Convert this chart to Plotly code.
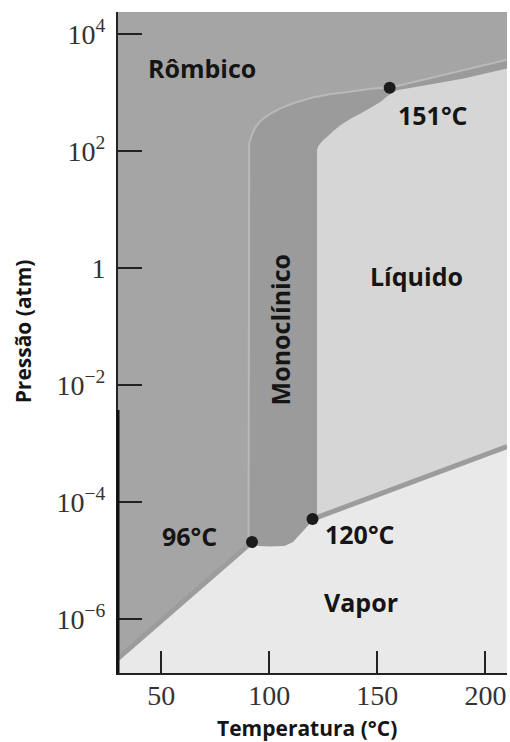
import numpy as np
import plotly.graph_objects as go

# ---------------- data ----------------
# rhombic / vapour sublimation curve
T_rh_vap = [30, 50, 75, 92]
logP_rh_vap = [-6.67, -6.03, -5.23, -4.68]
# monoclinic / vapour curve
T_mono_vap = [90.4, 92, 95, 100, 107, 111, 115, 120, 122.1]
logP_mono_vap = [-4.72, -4.73, -4.75, -4.76, -4.75, -4.68, -4.52, -4.32, -4.27]
# liquid / vapour curve
T_liq_vap = [120, 210]
logP_liq_vap = [-4.29, -3.05]
# rhombic / monoclinic boundary
T_rh_mono = [90.4, 90.4, 90.7, 91.2, 92.2, 93.5, 95.3, 97.4, 101, 105.1, 112, 120.5,
             128, 136.0, 148.1, 155.7]
logP_rh_mono = [-4.72, 2.07, 2.13, 2.19, 2.30, 2.40, 2.49, 2.56, 2.65, 2.73, 2.83, 2.92,
                2.97, 3.01, 3.07, 3.08]
# monoclinic / liquid boundary
T_mono_liq = [122.1, 122.1, 122.6, 123.6, 125.0, 126.7, 129.5, 132.9, 138.0, 143.7,
              148.0, 151.4, 155.0, 159.1]
logP_mono_liq = [-4.27, 2.02, 2.08, 2.13, 2.19, 2.24, 2.34, 2.44, 2.56, 2.67,
                 2.76, 2.84, 2.95, 3.04]
# rhombic / liquid boundary band (upper and lower edge)
T_rh_liq_up = [155.7, 210]
logP_rh_liq_up = [3.08, 3.56]
T_rh_liq_low = [159.1, 175, 190, 210]
logP_rh_liq_low = [3.04, 3.14, 3.24, 3.41]
# triple points
T_triple = [92, 120, 155.7]
logP_triple = [-4.68, -4.29, 3.08]
triple_labels = ["96°C", "120°C", "151°C"]

x_ticks = [50, 100, 150, 200]
y_tick_exp = [4, 2, 0, -2, -4, -6]
y_tick_text = ["10<sup>4</sup>", "10<sup>2</sup>", "1", "10<sup>−2</sup>",
               "10<sup>−4</sup>", "10<sup>−6</sup>"]

x_range = [30, 210]
logy_range = [-6.92, 4.376]

# ---------------- colours ----------------
C_RH = "#a5a5a5"
C_MONO = "#9b9b9b"
C_LIQ = "#d6d6d6"
C_VAP = "#e9e9e9"
C_LINE = "#9c9c9c"
C_LIGHT = "#b9b9b9"

P = lambda a: list(10.0 ** np.asarray(a, dtype=float))
BOT = logy_range[0] - 0.2

fig = go.Figure()

def poly(xs, ys, color):
    fig.add_trace(go.Scatter(x=xs, y=P(ys), mode="lines", fill="toself",
                             fillcolor=color, line=dict(width=0, color=color),
                             hoverinfo="skip", showlegend=False))

# monoclinic region + rhombic/liquid band
poly(T_rh_mono + T_rh_liq_up[1:] + T_rh_liq_low[::-1] + T_mono_liq[::-1][1:] + T_mono_vap[::-1],
     logP_rh_mono + logP_rh_liq_up[1:] + logP_rh_liq_low[::-1] + logP_mono_liq[::-1][1:]
     + logP_mono_vap[::-1], C_MONO)
# liquid region
poly(T_mono_liq + T_rh_liq_low[1:] + [x_range[1]] + T_liq_vap[::-1],
     logP_mono_liq + logP_rh_liq_low[1:] + [logP_liq_vap[-1]] + logP_liq_vap[::-1], C_LIQ)
# vapour region
poly([x_range[0]] + T_rh_vap + T_mono_vap[1:] + T_liq_vap + [x_range[1], x_range[0]],
     [BOT] + logP_rh_vap + logP_mono_vap[1:] + logP_liq_vap + [BOT, BOT], C_VAP)

def line(xs, ys, color, w):
    fig.add_trace(go.Scatter(x=xs, y=P(ys), mode="lines",
                             line=dict(color=color, width=w),
                             hoverinfo="skip", showlegend=False))

line(T_rh_vap, logP_rh_vap, C_LINE, 5)
line(T_liq_vap, logP_liq_vap, C_LINE, 5)
line(T_rh_mono + T_rh_liq_up[1:], logP_rh_mono + logP_rh_liq_up[1:], C_LIGHT, 2)

# triple points
fig.add_trace(go.Scatter(x=T_triple, y=P(logP_triple), mode="markers",
                         marker=dict(size=12, color="#1b1b1b"), cliponaxis=False,
                         hoverinfo="skip", showlegend=False))

lab_font = dict(family="Open Sans", size=25, color="#151515", weight="bold")
shifts = [(-62, 6), (47, -15), (43, -27)]
for t, lp, txt, (dx, dy) in zip(T_triple, logP_triple, triple_labels, shifts):
    fig.add_annotation(x=t, y=lp, text=txt, showarrow=False, xshift=dx, yshift=dy,
                       font=lab_font)

regions = [("Rômbico", 69.0, 3.42, 0), ("Líquido", 168.1, -0.14, 0),
           ("Vapor", 142.6, -5.71, 0), ("Monoclínico", 105.1, -1.06, -90)]
for txt, t, lp, ang in regions:
    fig.add_annotation(x=t, y=lp, text=txt, showarrow=False, textangle=ang,
                       font=lab_font)

# axis titles
title_font = dict(family="Open Sans", size=21, color="#151515", weight="bold")
fig.add_annotation(xref="paper", yref="paper", x=0.486, y=-0.0835, text="Temperatura (°C)",
                   showarrow=False, font=title_font, yanchor="middle")
fig.add_annotation(xref="paper", yref="paper", x=-0.244, y=0.517, text="Pressão (atm)",
                   showarrow=False, font=title_font, textangle=-90, xanchor="center")

# thicker lower part of the left axis
fig.add_shape(type="line", xref="x domain", yref="y domain", x0=0, x1=0, y0=0, y1=0.398,
              line=dict(color="#111", width=3))

tick_font = dict(family="Liberation Serif", size=28, color="#333333")
fig.update_layout(
    width=510, height=742,
    margin=dict(l=118, r=3, t=12, b=69),
    paper_bgcolor="white", plot_bgcolor=C_RH,
    showlegend=False,
    xaxis=dict(range=x_range, tickvals=x_ticks, ticks="inside", ticklen=22,
               tickwidth=1.5, tickcolor="#222", showline=True, linecolor="#222",
               linewidth=2, showgrid=False, zeroline=False, tickfont=tick_font,
               ticklabelstandoff=-4),
    yaxis=dict(type="log", range=logy_range, tickvals=[10.0 ** e for e in y_tick_exp],
               ticktext=y_tick_text, ticks="inside", ticklen=24, tickwidth=1.5,
               tickcolor="#222", showline=True, linecolor="#222", linewidth=2,
               showgrid=False, zeroline=False, tickfont=tick_font,
               ticklabelstandoff=5),
)

# remove the page's default body margin so the figure fills the window exactly
fig.write_html("out.html", config={"displayModeBar": False},
               post_script="document.body.style.margin='0';document.body.style.overflow='hidden';")
